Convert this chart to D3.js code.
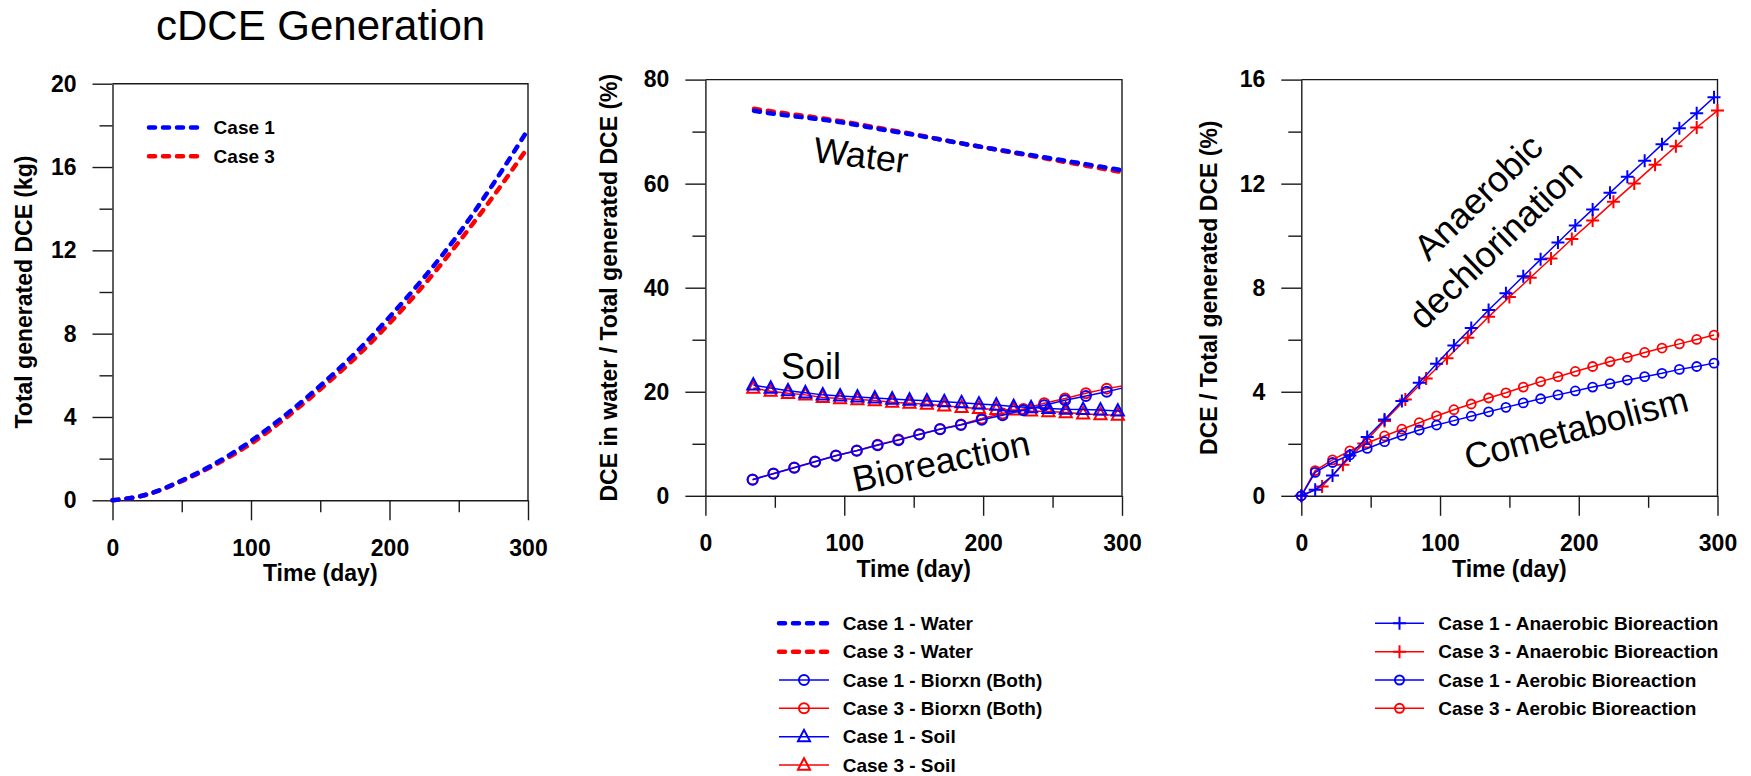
<!DOCTYPE html>
<html>
<head>
<meta charset="utf-8">
<script src="https://cdn.jsdelivr.net/npm/d3@7"></script>
<style>
  html, body { margin: 0; padding: 0; background: #fff; }
  svg { display: block; font-family: Arial, "Liberation Sans", sans-serif; }
</style>
</head>
<body>
<svg id="chart" width="1751" height="776"></svg>
<script>
// ---------------- DATA ----------------
// Panel 1: total generated DCE (kg)
const p1Days  = [0, 25, 50, 75, 100, 125, 150, 175, 200, 225, 250, 275, 300];
const p1Case1 = [0, 0.28, 0.95, 1.8, 2.85, 4.1, 5.5, 7.05, 8.8, 10.7, 12.8, 15.2, 17.8];
const p1Case3 = [0, 0.28, 0.92, 1.74, 2.72, 3.95, 5.33, 6.82, 8.5, 10.35, 12.4, 14.6, 16.95];

// Panel 2: DCE fractions (%)
const waterDays = [35, 50, 75, 100, 125, 150, 175, 200, 225, 250, 275, 300];
const water1 = [74.0, 73.4, 72.6, 71.7, 70.5, 69.4, 68.2, 67.0, 65.9, 64.8, 63.7, 62.6];
const water3 = [74.4, 73.8, 72.9, 71.9, 70.7, 69.5, 68.2, 67.0, 65.8, 64.6, 63.4, 62.2];

const bioDays = [34, 49, 64, 79, 94, 109, 124, 139, 154, 169, 184, 199, 214, 229, 244, 259, 274, 289, 300];
const bio1 = [3.1, 4.25, 5.4, 6.55, 7.7, 8.65, 9.7, 10.7, 11.8, 12.8, 13.6, 14.6, 15.5, 16.45, 17.4, 18.35, 19.2, 20.0, 20.7];
const bio3 = [3.15, 4.3, 5.45, 6.6, 7.75, 8.7, 9.8, 10.8, 11.85, 12.85, 13.7, 14.85, 15.8, 16.7, 17.8, 18.7, 19.7, 20.6, 21.1];

const soilDays = [34.5, 47, 59.5, 72, 84.5, 97, 109.5, 122, 134.5, 147, 159.5, 172, 184.5, 197, 209.5, 222, 234.5, 247, 259.5, 272, 284.5, 297, 300];
const soil1 = [21.3, 20.7, 20.2, 19.8, 19.4, 19.2, 19.0, 18.8, 18.6, 18.4, 18.25, 18.1, 17.9, 17.65, 17.45, 17.15, 16.95, 16.8, 16.65, 16.6, 16.5, 16.3, 16.25];
const soil3 = [20.7, 20.1, 19.7, 19.4, 18.9, 18.7, 18.5, 18.3, 18.0, 17.8, 17.6, 17.3, 17.0, 16.8, 16.6, 16.5, 16.3, 16.2, 16.0, 15.75, 15.6, 15.5, 15.45];

// Panel 3: bioreaction fractions (%)
const days1 = [0, 10, 22.5, 35, 47.5, 60, 72.5, 85, 97.5, 110, 122.5, 135, 147.5, 160, 172.5, 185, 197.5, 210, 222.5, 235, 247.5, 260, 272.5, 285, 297.5];
const ana1 = [0, 0.23, 0.78, 1.55, 2.26, 2.93, 3.64, 4.35, 5.08, 5.78, 6.45, 7.14, 7.79, 8.44, 9.09, 9.74, 10.39, 11.01, 11.65, 12.27, 12.88, 13.51, 14.13, 14.71, 15.32];
const days3 = [0, 15, 30, 45, 60, 75, 90, 105, 120, 135, 150, 165, 180, 195, 210, 225, 240, 255, 270, 285, 300];
const ana3 = [0, 0.36, 1.19, 2.01, 2.88, 3.70, 4.51, 5.29, 6.08, 6.88, 7.64, 8.38, 9.12, 9.87, 10.58, 11.30, 12.01, 12.73, 13.44, 14.16, 14.81];
const aero1 = [0, 0.9, 1.28, 1.57, 1.82, 2.08, 2.32, 2.53, 2.72, 2.89, 3.06, 3.23, 3.40, 3.57, 3.73, 3.88, 4.03, 4.18, 4.31, 4.45, 4.58, 4.71, 4.86, 4.97, 5.10];
const aero3 = [0, 0.97, 1.38, 1.73, 2.03, 2.30, 2.56, 2.81, 3.07, 3.31, 3.53, 3.76, 3.96, 4.18, 4.39, 4.58, 4.78, 4.97, 5.16, 5.32, 5.51, 5.68, 5.84, 6.01, 6.18];

// Tick labels
const xTicksMajor = [0, 100, 200, 300];
const xTicksMinor = [50, 150, 250];
const p1YMajor = [0, 4, 8, 12, 16, 20];
const p1YMinor = [2, 6, 10, 14, 18];
const p2YMajor = [0, 20, 40, 60, 80];
const p2YMinor = [10, 30, 50, 70];
const p3YMajor = [0, 4, 8, 12, 16];
const p3YMinor = [2, 6, 10, 14];

const title = "cDCE Generation";
const xTitle = "Time (day)";
const yTitles = ["Total generated DCE (kg)", "DCE in water / Total generated DCE (%)", "DCE / Total generated DCE (%)"];
const legend1 = ["Case 1", "Case 3"];
const legend2 = ["Case 1 - Water", "Case 3 - Water", "Case 1 - Biorxn (Both)", "Case 3 - Biorxn (Both)", "Case 1 - Soil", "Case 3 - Soil"];
const legend3 = ["Case 1 - Anaerobic Bioreaction", "Case 3 - Anaerobic Bioreaction", "Case 1 - Aerobic Bioreaction", "Case 3 - Aerobic Bioreaction"];

// ---------------- DRAWING ----------------
const BLUE = "#0000ff", RED = "#ff0000", AX = "#1a1a1a";
const svg = d3.select("#chart");

svg.append("text").attr("x", 156).attr("y", 40)
  .attr("font-size", 42).attr("fill", "#000").text(title);

function panel(cfg) {
  const x = d3.scaleLinear().domain([0, 300]).range([cfg.left, cfg.right]);
  const y = d3.scaleLinear().domain([0, cfg.ymax]).range([cfg.bottom, cfg.top]);
  const g = svg.append("g");

  g.append("g").attr("transform", `translate(${cfg.left},0)`)
    .call(d3.axisLeft(y).tickValues(cfg.yMinor).tickSize(13).tickFormat(""))
    .call(s => s.select(".domain").remove());
  g.append("g").attr("transform", `translate(${cfg.left},0)`)
    .call(d3.axisLeft(y).tickValues(cfg.yMajor).tickSize(20).tickSizeOuter(0).tickPadding(16));
  g.append("g").attr("transform", `translate(0,${cfg.bottom})`)
    .call(d3.axisBottom(x).tickValues(xTicksMinor).tickSize(12).tickFormat(""))
    .call(s => s.select(".domain").remove());
  g.append("g").attr("transform", `translate(0,${cfg.bottom})`)
    .call(d3.axisBottom(x).tickValues(xTicksMajor).tickSize(20).tickSizeOuter(0).tickPadding(19));
  g.selectAll(".domain, .tick line").attr("stroke", AX).attr("stroke-width", 1.4);
  g.selectAll(".tick text").attr("font-size", 23).attr("font-weight", "bold")
    .attr("fill", "#000").attr("font-family", "Arial, 'Liberation Sans', sans-serif");
  g.append("path")
    .attr("d", `M${cfg.left},${cfg.top}H${cfg.right}V${cfg.bottom}`)
    .attr("fill", "none").attr("stroke", AX).attr("stroke-width", 1.4);
  g.append("text").attr("x", (cfg.left + cfg.right) / 2).attr("y", cfg.bottom + 81)
    .attr("text-anchor", "middle").attr("font-size", 23).attr("font-weight", "bold").text(xTitle);
  g.append("text")
    .attr("transform", `translate(${cfg.left - cfg.ytOff},${(cfg.top + cfg.bottom) / 2}) rotate(-90)`)
    .attr("text-anchor", "middle").attr("font-size", 23).attr("font-weight", "bold").text(cfg.yTitle);
  return { x, y, g };
}

function dashedLine(p, xs, ys, color) {
  const data = xs.map((d, i) => [d, ys[i]]);
  p.g.append("path").datum(data)
    .attr("d", d3.line().x(d => p.x(d[0])).y(d => p.y(d[1])).curve(d3.curveMonotoneX))
    .attr("fill", "none").attr("stroke", color).attr("stroke-width", 4.5)
    .attr("stroke-dasharray", "6,8").attr("stroke-linecap", "round");
}
function solidLine(p, xs, ys, color) {
  const data = xs.map((d, i) => [d, ys[i]]);
  p.g.append("path").datum(data)
    .attr("d", d3.line().x(d => p.x(d[0])).y(d => p.y(d[1])))
    .attr("fill", "none").attr("stroke", color).attr("stroke-width", 1.5);
  return data;
}
const symCircle = r => `M${-r},0A${r},${r} 0 1,0 ${r},0A${r},${r} 0 1,0 ${-r},0Z`;
const symTri = s => `M0,${-s * 0.62}L${s * 0.55},${s * 0.42}L${-s * 0.55},${s * 0.42}Z`;
const symPlus = s => `M${-s},0H${s}M0,${-s}V${s}`;
function markers(p, data, path, color, sw) {
  p.g.append("g").selectAll("path").data(data).join("path")
    .attr("transform", d => `translate(${p.x(d[0])},${p.y(d[1])})`)
    .attr("d", path).attr("fill", "none").attr("stroke", color).attr("stroke-width", sw);
}
function label(p, cx, cy, ang, txt) {
  p.g.append("text").attr("transform", `translate(${cx},${cy}) rotate(${ang})`)
    .attr("text-anchor", "middle").attr("dy", "0.35em").attr("font-size", 36).attr("fill", "#000").text(txt);
}

// ---- Panel 1
const P1 = panel({ left: 112.5, right: 528, top: 83.7, bottom: 500.3, ymax: 20,
  yMajor: p1YMajor, yMinor: p1YMinor, ytOff: 81, yTitle: yTitles[0] });
dashedLine(P1, p1Days, p1Case3, RED);
dashedLine(P1, p1Days, p1Case1, BLUE);
[[BLUE, 127.6], [RED, 156.3]].forEach((c, i) => {
  P1.g.append("line").attr("x1", 149).attr("x2", 202).attr("y1", c[1]).attr("y2", c[1])
    .attr("stroke", c[0]).attr("stroke-width", 4.5).attr("stroke-dasharray", "6,8").attr("stroke-linecap", "round");
  P1.g.append("text").attr("x", 213.6).attr("y", c[1]).attr("dy", "0.35em")
    .attr("font-size", 19).attr("font-weight", "bold").text(legend1[i]);
});

// ---- Panel 2
const P2 = panel({ left: 705.4, right: 1122, top: 79.6, bottom: 495.8, ymax: 80,
  yMajor: p2YMajor, yMinor: p2YMinor, ytOff: 88, yTitle: yTitles[1] });
dashedLine(P2, waterDays, water3, RED);
dashedLine(P2, waterDays, water1, BLUE);
const s3 = solidLine(P2, soilDays, soil3, RED);
const b3 = solidLine(P2, bioDays, bio3, RED);
markers(P2, s3.filter(d => d[0] < 299), symTri(11), RED, 2);
markers(P2, b3.filter(d => d[0] < 299), symCircle(5), RED, 2);
const s1 = solidLine(P2, soilDays, soil1, BLUE);
const b1 = solidLine(P2, bioDays, bio1, BLUE);
markers(P2, s1.filter(d => d[0] < 299), symTri(11), BLUE, 2);
markers(P2, b1.filter(d => d[0] < 299), symCircle(5), BLUE, 2);
label(P2, 861, 155, 7, "Water");
label(P2, 811, 366, 0, "Soil");
label(P2, 941, 461, -12, "Bioreaction");

const lg2 = [
  { c: BLUE, t: "dash" }, { c: RED, t: "dash" },
  { c: BLUE, t: "circ" }, { c: RED, t: "circ" },
  { c: BLUE, t: "tri" }, { c: RED, t: "tri" }];
lg2.forEach((d, i) => {
  const yy = 623.3 + i * 28.35;
  const ln = P2.g.append("line").attr("x1", 779).attr("x2", 829).attr("y1", yy).attr("y2", yy).attr("stroke", d.c);
  if (d.t === "dash") ln.attr("stroke-width", 4.5).attr("stroke-dasharray", "6,8").attr("stroke-linecap", "round");
  else {
    ln.attr("stroke-width", 1.5);
    P2.g.append("path").attr("transform", `translate(804,${yy})`)
      .attr("d", d.t === "circ" ? symCircle(5) : symTri(11))
      .attr("fill", "none").attr("stroke", d.c).attr("stroke-width", 2);
  }
  P2.g.append("text").attr("x", 842.7).attr("y", yy).attr("dy", "0.35em")
    .attr("font-size", 19).attr("font-weight", "bold").text(legend2[i]);
});

// ---- Panel 3
const P3 = panel({ left: 1301.3, right: 1717.5, top: 79.6, bottom: 495.8, ymax: 16,
  yMajor: p3YMajor, yMinor: p3YMinor, ytOff: 84, yTitle: yTitles[2] });
const a3 = solidLine(P3, days3, ana3, RED);
markers(P3, a3, symPlus(6.5), RED, 2);
const o3 = solidLine(P3, days1, aero3, RED);
markers(P3, o3, symCircle(4.5), RED, 1.8);
const a1 = solidLine(P3, days1, ana1, BLUE);
markers(P3, a1, symPlus(6.5), BLUE, 2);
const o1 = solidLine(P3, days1, aero1, BLUE);
markers(P3, o1, symCircle(4.5), BLUE, 1.8);
label(P3, 1478, 197, -44, "Anaerobic");
label(P3, 1495, 244, -44, "dechlorination");
label(P3, 1576, 428, -15, "Cometabolism");

const lg3 = [{ c: BLUE, t: "plus" }, { c: RED, t: "plus" }, { c: BLUE, t: "circ" }, { c: RED, t: "circ" }];
lg3.forEach((d, i) => {
  const yy = 623.3 + i * 28.35;
  P3.g.append("line").attr("x1", 1375).attr("x2", 1424).attr("y1", yy).attr("y2", yy)
    .attr("stroke", d.c).attr("stroke-width", 1.5);
  P3.g.append("path").attr("transform", `translate(1399.5,${yy})`)
    .attr("d", d.t === "plus" ? symPlus(6.5) : symCircle(4.5))
    .attr("fill", "none").attr("stroke", d.c).attr("stroke-width", 2);
  P3.g.append("text").attr("x", 1438.3).attr("y", yy).attr("dy", "0.35em")
    .attr("font-size", 19).attr("font-weight", "bold").text(legend3[i]);
});
</script>
</body>
</html>
